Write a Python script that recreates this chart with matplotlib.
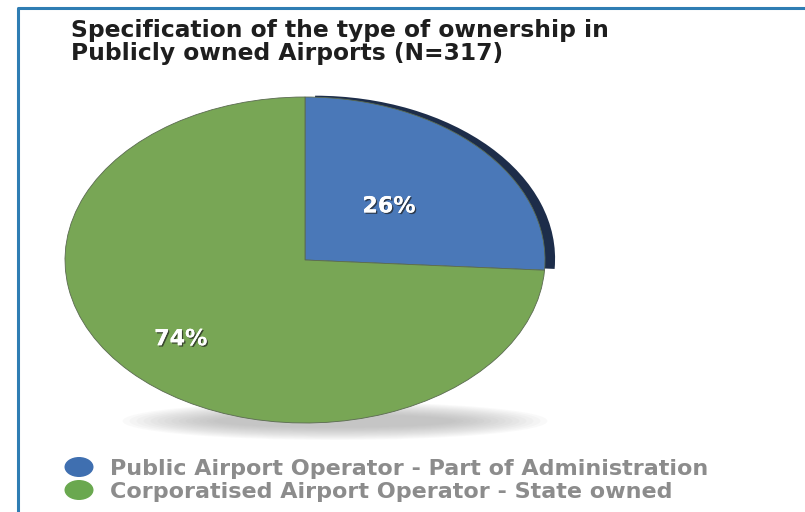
import numpy as np
import matplotlib.pyplot as plt
import matplotlib.patheffects as pe
from matplotlib.patches import Ellipse

# Ownership split of publicly owned airports
categories = ["Public Airport Operator - Part of Administration",
              "Corporatised Airport Operator - State owned"]
shares = [26, 74]
colors = ["#4a78b8", "#78a655"]
legend_colors = ["#3f6fb0", "#6aa84f"]
title = "Specification of the type of ownership in\nPublicly owned Airports (N=317)"

W, H = 805, 512
fig = plt.figure(figsize=(W / 100, H / 100), dpi=100)
fig.patch.set_facecolor("white")

# background axes in pixel units for frame, title, shadow and legend
bg = fig.add_axes([0, 0, 1, 1])
bg.set_xlim(0, W)
bg.set_ylim(H, 0)
bg.axis("off")

bg.plot([18, 18, W], [H, 8, 8], color="#2f7db3", lw=2.2, solid_capstyle="butt")

for i, line in enumerate(title.split("\n")):
    bg.text(71, 37 + i * 23, line, fontsize=16.8, fontweight="bold",
            family="DejaVu Sans", color="#1e1e1e", va="baseline")

# soft drop shadow under the pie
for k in range(14):
    bg.add_patch(Ellipse((335, 421), 425 - k * 14, 38 - k * 1.9,
                         color="#9a9a9a", alpha=0.05, lw=0, zorder=1))

# pie drawn as a flattened ellipse
pax = fig.add_axes([65 / W, 1 - 423 / H, 480 / W, 326 / H])
pax.patch.set_alpha(0)

# dark rim behind the blue slice
rim, _ = pax.pie(shares, colors=["#1d2d4a", "none"], startangle=90,
                 counterclock=False, center=(0.042, 0.008), radius=1.0)
for w in rim:
    w.set_zorder(1)

wedges, _, autotexts = pax.pie(
    shares, colors=colors, startangle=90, counterclock=False,
    autopct=lambda p: "%d%%" % round(p), pctdistance=0.6,
    wedgeprops=dict(linewidth=0.6, edgecolor="#5a6a50"))
for w in wedges:
    w.set_zorder(2)

# move the value labels along each slice's bisector
for w, t, r in zip(wedges, autotexts, [0.48, 0.71]):
    ang = np.deg2rad((w.theta1 + w.theta2) / 2)
    t.set_position((r * np.cos(ang), r * np.sin(ang)))
    t.set_color("white")
    t.set_fontsize(16)
    t.set_fontweight("bold")
    t.set_zorder(5)
    t.set_path_effects([pe.withSimplePatchShadow(offset=(1, -1),
                                                 shadow_rgbFace="#202020", alpha=0.7),
                        pe.Normal()])

pax.set_aspect("auto")
pax.set_xlim(-1, 1)
pax.set_ylim(-1, 1)
pax.axis("off")

# legend
for i, (lab, c) in enumerate(zip(categories, legend_colors)):
    y = 475 + i * 23
    bg.add_patch(Ellipse((79, y - 8), 29, 20, color=c, lw=0, zorder=3))
    bg.text(110, y, lab, fontsize=16, fontweight="bold",
            family="DejaVu Sans", color="#8c8c8c", va="baseline")

fig.savefig("out.png", dpi=100, facecolor="white")
